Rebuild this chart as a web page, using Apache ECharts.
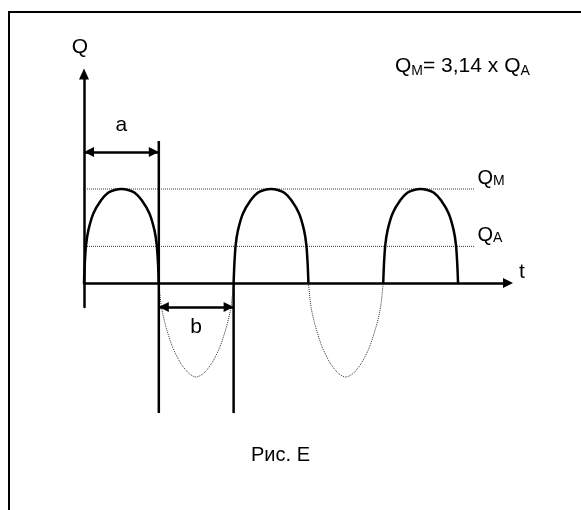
<!DOCTYPE html>
<html>
<head>
<meta charset="utf-8">
<title>Рис. E</title>
<script src="https://cdn.jsdelivr.net/npm/echarts@6/dist/echarts.min.js"></script>
<style>
  html, body { margin: 0; padding: 0; background: #fff; }
  #main { width: 581px; height: 510px; }
</style>
</head>
<body>
<div id="main"></div>
<script>
// time in half-periods (a = b = 1), Q in units of Q_M
var hump1 = [[0,0],[0.01,0.2],[0.027,0.4],[0.058,0.56],[0.125,0.74],[0.228,0.88],[0.322,0.96],[0.41,0.99],[0.5,1],[0.59,0.99],[0.678,0.96],[0.772,0.88],[0.875,0.74],[0.942,0.56],[0.973,0.4],[0.99,0.2],[1,0]];
var hump2 = [[2,0],[2.01,0.2],[2.027,0.4],[2.058,0.56],[2.125,0.74],[2.228,0.88],[2.322,0.96],[2.41,0.99],[2.5,1],[2.59,0.99],[2.678,0.96],[2.772,0.88],[2.875,0.74],[2.942,0.56],[2.973,0.4],[2.99,0.2],[3,0]];
var hump3 = [[4,0],[4.01,0.2],[4.027,0.4],[4.058,0.56],[4.125,0.74],[4.228,0.88],[4.322,0.96],[4.41,0.99],[4.5,1],[4.59,0.99],[4.678,0.96],[4.772,0.88],[4.875,0.74],[4.942,0.56],[4.973,0.4],[4.99,0.2],[5,0]];
var trough1 = [[1,0],[1.036,-0.26],[1.09,-0.45],[1.183,-0.68],[1.29,-0.85],[1.4,-0.96],[1.5,-1],[1.6,-0.96],[1.71,-0.85],[1.817,-0.68],[1.91,-0.45],[1.964,-0.26],[2,0]];
var trough2 = [[3,0],[3.036,-0.26],[3.09,-0.45],[3.183,-0.68],[3.29,-0.85],[3.4,-0.96],[3.5,-1],[3.6,-0.96],[3.71,-0.85],[3.817,-0.68],[3.91,-0.45],[3.964,-0.26],[4,0]];

var levelQM = 1;
var levelQA = 0.39;
var levelStart = -0.04;
var levelEnd = 5.22;

var markA = { from: 0, to: 1, y: 1.394, top: 1.51, bottom: -1.383 };
var markB = { from: 1, to: 2, y: -0.255, top: 0, bottom: -1.383 };

var xMin = 0, xMax = 5.668;
var yMin = -0.255, yMax = 2.223;

var font = "'Liberation Sans', Arial, sans-serif";

var myChart = echarts.init(document.getElementById('main'));

var dotted = { color: '#333', width: 1, type: 'dotted' };
var solid = { color: '#000', width: 2.5, type: 'solid' };
var subRich = { s: { fontFamily: font, fontSize: 14, lineHeight: 14, verticalAlign: 'bottom', color: '#000' } };

function plainLine(data, style, z) {
    return {
        type: 'line', data: data, smooth: 0.25, showSymbol: false, symbol: 'none',
        clip: false, lineStyle: style, silent: true, z: z
    };
}
function levelLine(y, text) {
    var s = plainLine([[levelStart, y], [levelEnd, y]], dotted, 1);
    s.smooth = false;
    s.endLabel = {
        show: true, formatter: text, distance: 3, padding: [0, 0, 22, 0],
        color: '#000', fontFamily: font, fontSize: 20, rich: subRich
    };
    return s;
}

var option = {
    animation: false,
    title: [
        {
            text: 'Рис. E',
            left: 251, top: 445, padding: 0,
            textStyle: { fontFamily: font, fontSize: 20, fontWeight: 'normal', color: '#000' }
        },
        {
            text: 'Q{s|M}= 3,14 x Q{s|A}',
            left: 395, top: 55, padding: 0,
            textStyle: {
                fontFamily: font, fontSize: 21, fontWeight: 'normal', color: '#000', lineHeight: 23,
                rich: subRich
            }
        }
    ],
    grid: { left: 84, right: 73, top: 74, bottom: 203 },
    xAxis: {
        type: 'value', min: xMin, max: xMax,
        name: 't', nameLocation: 'end', nameGap: 11,
        nameTextStyle: { fontFamily: font, fontSize: 21, color: '#000', verticalAlign: 'bottom' },
        axisLine: { onZero: true, lineStyle: { color: '#000', width: 2.5 }, symbol: ['none', 'triangle'], symbolSize: [10, 10] },
        axisTick: { show: false }, axisLabel: { show: false }, splitLine: { show: false }
    },
    yAxis: {
        type: 'value', min: yMin, max: yMax,
        name: 'Q', nameLocation: 'end', nameGap: 16,
        nameTextStyle: { fontFamily: font, fontSize: 21, color: '#000', align: 'center', padding: [0, 8, 0, 0] },
        axisLine: { onZero: false, lineStyle: { color: '#000', width: 2.5 }, symbol: ['none', 'triangle'], symbolSize: [10, 11] },
        axisTick: { show: false }, axisLabel: { show: false }, splitLine: { show: false }
    },
    graphic: [
        {
            type: 'rect', silent: true, z: -1,
            shape: { x: 9, y: 12, width: 620, height: 560 },
            style: { fill: 'none', stroke: '#000', lineWidth: 2 }
        }
    ],
    series: [
        plainLine(hump1, solid, 3),
        plainLine(hump2, solid, 3),
        plainLine(hump3, solid, 3),
        plainLine(trough1, dotted, 2),
        plainLine(trough2, dotted, 2),
        levelLine(levelQM, 'Q{s|M}'),
        levelLine(levelQA, 'Q{s|A}'),
        plainLine([[markA.to, markA.top], [markA.to, markA.bottom]], solid, 4),
        plainLine([[markB.to, markB.top], [markB.to, markB.bottom]], solid, 4),
        {
            type: 'line', data: [], silent: true,
            markLine: {
                silent: true, animation: false,
                symbol: ['triangle', 'triangle'], symbolSize: [10, 10], symbolOffset: [[0, 5], [0, 5]],
                lineStyle: { color: '#000', width: 2.5, type: 'solid' },
                data: [
                    [
                        { coord: [markA.from, markA.y],
                          label: { show: true, position: 'insideMiddleTop', distance: 16, formatter: 'a' } },
                        { coord: [markA.to, markA.y] }
                    ],
                    [
                        { coord: [markB.from, markB.y],
                          label: { show: true, position: 'insideMiddleBottom', distance: 10, formatter: 'b' } },
                        { coord: [markB.to, markB.y] }
                    ]
                ],
                label: { color: '#000', fontFamily: font, fontSize: 21 }
            }
        }
    ]
};

myChart.setOption(option);
</script>
</body>
</html>
